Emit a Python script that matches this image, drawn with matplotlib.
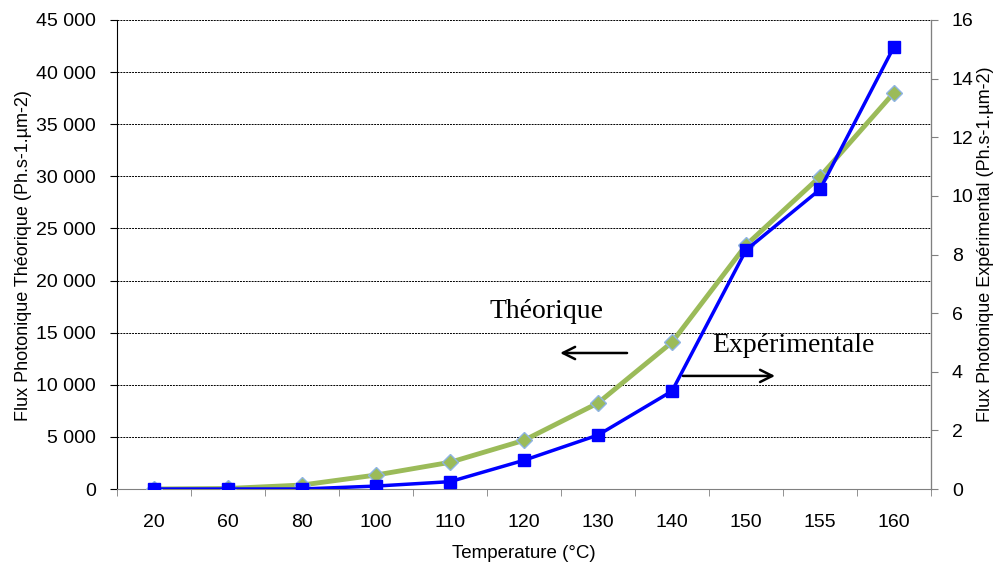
import matplotlib.pyplot as plt
from matplotlib.ticker import FuncFormatter, FixedLocator

temperatures = ["20", "60", "80", "100", "110", "120", "130", "140", "150", "155", "160"]
flux_theorique = [0, 50, 380, 1340, 2560, 4670, 8250, 14080, 23400, 29970, 38030]
flux_experimental = [0, 0, 0, 0.1, 0.25, 0.98, 1.84, 3.34, 8.15, 10.22, 15.09]

plt.rcParams["font.family"] = ["Liberation Sans", "DejaVu Sans"]

fig = plt.figure(figsize=(9.97, 5.66), dpi=100)
ax = fig.add_axes([117 / 997, 1 - 489 / 566, 814 / 997, 469 / 566])
ax2 = ax.twinx()

x = list(range(len(temperatures)))

# green theoretical curve on left axis
ax.plot(x, flux_theorique, color="#9BBB59", lw=3.5, marker="D", ms=8.5,
        mfc="#9BBB59", mec="#8EB4E3", mew=1, zorder=3)
# blue experimental curve on right axis
ax2.plot(x, flux_experimental, color="#0000FF", lw=2.5, marker="s", ms=8,
         mfc="#0000FF", mec="#0000FF", zorder=3)

ax.set_xlim(-0.5, len(temperatures) - 0.5)
ax.set_ylim(0, 45000)
ax2.set_ylim(0, 16)
ax.set_yticks(range(0, 45001, 5000))
ax2.set_yticks(range(0, 17, 2))
ax.yaxis.set_major_formatter(FuncFormatter(lambda v, p: f"{int(v):,}".replace(",", " ")))

ax.set_xticks(x)
ax.set_xticklabels(temperatures)
ax.xaxis.set_minor_locator(FixedLocator([i - 0.5 for i in range(len(temperatures) + 1)]))
ax.tick_params(axis="x", which="major", length=0, pad=18, labelsize=14)
ax.tick_params(axis="x", which="minor", length=5, direction="out", color="#808080")
ax.tick_params(axis="y", length=5, direction="out", labelsize=14, pad=10)
ax2.tick_params(axis="y", length=5, direction="out", color="#808080", labelsize=14, pad=10)

ax.yaxis.grid(True, linestyle=(0, (2, 1)), color="black", lw=0.7)
ax.set_axisbelow(True)

for a in (ax, ax2):
    a.spines["top"].set_visible(False)
ax.spines["left"].set_color("black")
ax.spines["bottom"].set_color("#808080")
ax2.spines["left"].set_visible(False)
ax2.spines["bottom"].set_visible(False)
ax2.spines["right"].set_color("#808080")

ax.set_ylabel("Flux Photonique Théorique (Ph.s-1.µm-2)", fontsize=13)
ax2.set_ylabel("Flux Photonique Expérimental (Ph.s-1.µm-2)", fontsize=13)
ax.yaxis.set_label_coords(-0.105, 0.497)
ax2.yaxis.set_label_coords(1.056, 0.522)
ax.set_xlabel("Temperature (°C)", fontsize=13.5, labelpad=10)

# annotations with arrows
ax.text(4.54, 17000, "Théorique", family="Liberation Serif", fontsize=20, va="center")
ax.annotate("", xy=(5.45, 13050), xytext=(6.43, 13050),
            arrowprops=dict(arrowstyle="->", color="black", lw=1.8, mutation_scale=22))
ax.text(7.55, 13800, "Expérimentale", family="Liberation Serif", fontsize=20, va="center")
ax.annotate("", xy=(8.43, 10850), xytext=(7.11, 10850),
            arrowprops=dict(arrowstyle="->", color="black", lw=1.8, mutation_scale=22))

fig.savefig("out.png", dpi=100)
